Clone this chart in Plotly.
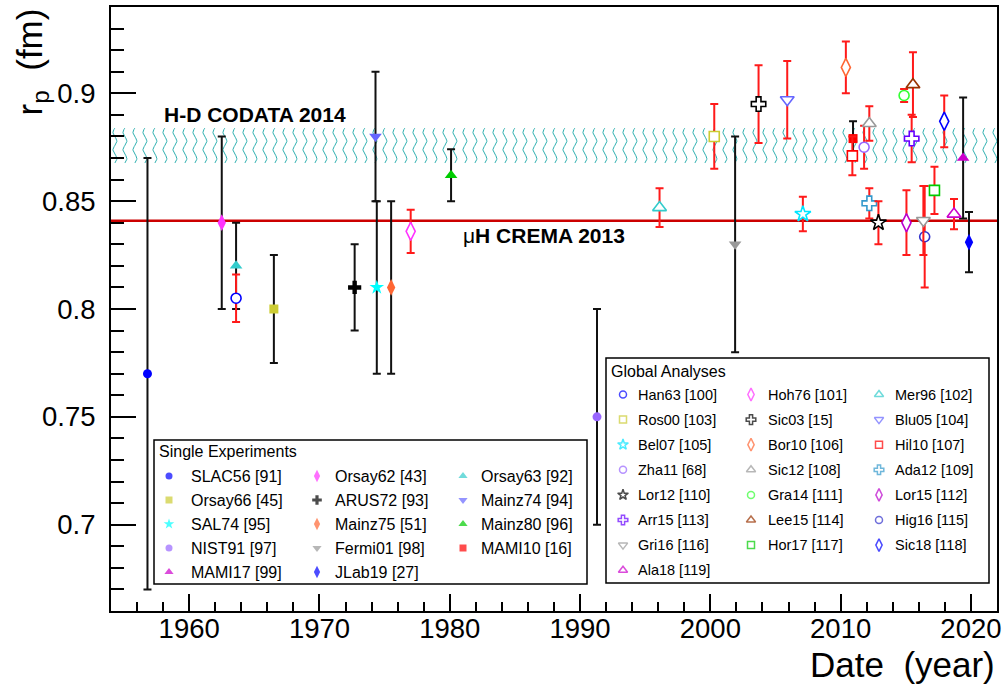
import numpy as np
import plotly.graph_objects as go

# ---------------- data ----------------
x_range = [1954, 2022]
y_range = [0.66, 0.94]
x_tick_vals = [1960, 1970, 1980, 1990, 2000, 2010, 2020]
y_tick_vals = [0.7, 0.75, 0.8, 0.85, 0.9]
y_tick_text = ["0.7", "0.75", "0.8", "0.85", "0.9"]

codata_band = [0.8677, 0.8839]      # H-D CODATA 2014 band (low, high)
crema_value = 0.8409                # muH CREMA 2013

# Single experiments (legend order, row-major)
single_names = ["SLAC56 [91]", "Orsay62 [43]", "Orsay63 [92]",
                "Orsay66 [45]", "ARUS72 [93]", "Mainz74 [94]",
                "SAL74 [95]", "Mainz75 [51]", "Mainz80 [96]",
                "NIST91 [97]", "Fermi01 [98]", "MAMI10 [16]",
                "MAMI17 [99]", "JLab19 [27]"]
single_year = [1956.8, 1962.5, 1963.6, 1966.5, 1972.7, 1974.3, 1974.4,
               1975.5, 1980.1, 1991.3, 2001.9, 2010.95, 2019.4, 2019.85]
single_r = [0.770, 0.840, 0.820, 0.800, 0.810, 0.880, 0.810,
            0.810, 0.862, 0.750, 0.830, 0.879, 0.870, 0.831]
single_err = [0.100, 0.040, 0.020, 0.025, 0.020, 0.030, 0.040,
              0.040, 0.012, 0.050, 0.050, 0.008, 0.028, 0.014]
single_color = ["#0000FF", "#FF33FF", "#33CCCC", "#CCCC33", "#000000",
                "#6666FF", "#00FFFF", "#FF6633", "#00CC00", "#9966FF",
                "#999999", "#FF0000", "#CC00CC", "#0000FF"]
single_symbol = ["circle", "diamond-tall", "triangle-up", "square", "cross",
                 "triangle-down", "star", "diamond-tall", "triangle-up",
                 "circle", "triangle-down", "square", "triangle-up",
                 "diamond-tall"]

# Global analyses (legend order, row-major)
global_names = ["Han63 [100]", "Hoh76 [101]", "Mer96 [102]",
                "Ros00 [103]", "Sic03 [15]", "Blu05 [104]",
                "Bel07 [105]", "Bor10 [106]", "Hil10 [107]",
                "Zha11 [68]", "Sic12 [108]", "Ada12 [109]",
                "Lor12 [110]", "Gra14 [111]", "Lor15 [112]",
                "Arr15 [113]", "Lee15 [114]", "Hig16 [115]",
                "Gri16 [116]", "Hor17 [117]", "Sic18 [118]",
                "Ala18 [119]"]
global_year = [1963.6, 1977.0, 1996.1, 2000.3, 2003.7, 2005.9, 2007.1,
               2010.4, 2010.9, 2011.8, 2012.2, 2012.2, 2012.9, 2014.87,
               2015.05, 2015.45, 2015.55, 2016.45, 2016.35, 2017.2,
               2017.95, 2018.7]
global_r = [0.805, 0.836, 0.847, 0.880, 0.895, 0.897, 0.844, 0.912,
            0.871, 0.875, 0.886, 0.849, 0.840, 0.899, 0.840, 0.879,
            0.904, 0.8335, 0.841, 0.855, 0.887, 0.844]
global_err = [0.011, 0.010, 0.009, 0.015, 0.018, 0.018, 0.008, 0.012,
              0.009, 0.010, 0.008, 0.007, 0.010, 0.003, 0.015, 0.011,
              0.015, 0.0235, 0.016, 0.011, 0.012, 0.007]
global_color = ["#0000FF", "#FF33FF", "#33CCCC", "#CCCC33", "#000000",
                "#6666FF", "#00E5FF", "#FF6633", "#FF0000", "#9966FF",
                "#999999", "#3399CC", "#000000", "#33FF33", "#BB00CC",
                "#6600FF", "#993300", "#3333CC", "#999999", "#00CC00",
                "#0000FF", "#CC00CC"]
global_symbol = ["circle", "diamond-tall", "triangle-up", "square", "cross",
                 "triangle-down", "star", "diamond-tall", "square", "circle",
                 "triangle-up", "cross", "star", "circle", "diamond-tall",
                 "cross", "triangle-up", "circle", "triangle-down", "square",
                 "diamond-tall", "triangle-up"]

# ---------------- styling / layout ----------------
FONT = "Liberation Sans, Arial, Helvetica, sans-serif"
W, H = 1005, 686
M_L, M_R, M_T, M_B = 111, 8, 7, 75
PW, PH = W - M_L - M_R, H - M_T - M_B


def px_x(p):
    return (p - M_L) / PW


def px_y(p):
    return (H - M_B - p) / PH


SYM_SIZE = {"circle": 9, "square": 9, "triangle-up": 11, "triangle-down": 11,
            "diamond-tall": 12, "cross": 11, "star": 11}

fig = go.Figure()

# CODATA band drawn as a wavy-line pattern
lo, hi = codata_band
step, amp, wl = 0.7675, 0.15, (hi - lo) / 2.0
yy = np.linspace(lo, hi, 50)
bx, by = [], []
for x0 in np.arange(x_range[0] + 0.3, x_range[1], step):
    bx += list(x0 + amp * np.sin(2 * np.pi * (yy - lo) / wl)) + [None]
    by += list(yy) + [None]
fig.add_trace(go.Scatter(x=bx, y=by, mode="lines",
                         line=dict(color="#2EB0B0", width=1),
                         hoverinfo="skip", showlegend=False))

# muH CREMA line
fig.add_trace(go.Scatter(x=x_range, y=[crema_value, crema_value], mode="lines",
                         line=dict(color="#CC0000", width=2.5),
                         hoverinfo="skip", showlegend=False))

# Single experiments
for n, x, r, e, c, s in zip(single_names, single_year, single_r, single_err,
                            single_color, single_symbol):
    fig.add_trace(go.Scatter(
        x=[x], y=[r], mode="markers", name=n, showlegend=False,
        error_y=dict(type="data", array=[e], color="#111111",
                     thickness=2, width=4),
        marker=dict(symbol=s, size=SYM_SIZE[s], color=c, line=dict(width=0)),
        cliponaxis=False))

# Global analyses
for n, x, r, e, c, s in zip(global_names, global_year, global_r, global_err,
                            global_color, global_symbol):
    fig.add_trace(go.Scatter(
        x=[x], y=[r], mode="markers", name=n, showlegend=False,
        error_y=dict(type="data", array=[e], color="#FF1A1A",
                     thickness=2, width=4),
        marker=dict(symbol=s, size=SYM_SIZE[s] + 1, color="white",
                    line=dict(color=c, width=1.6)),
        cliponaxis=False))

# ---------------- hand-built legends (two boxes, three columns) ----------------
shapes, annotations = [], []
leg_specs = [
    dict(title="Single Experiments", names=single_names, colors=single_color,
         symbols=single_symbol, filled=True, box=(154, 440, 587, 584),
         title_xy=(157, 452), row0=476, drow=24.0,
         sym_x=(169, 317, 463), txt_x=(189, 333, 479), font=16, title_font=16),
    dict(title="Global Analyses", names=global_names, colors=global_color,
         symbols=global_symbol, filled=False, box=(606, 358, 989, 583),
         title_xy=(609, 371), row0=394.5, drow=25.1,
         sym_x=(623, 751, 879), txt_x=(636, 766, 893), font=14.5,
         title_font=16),
]
for spec in leg_specs:
    x0, y0, x1, y1 = spec["box"]
    shapes.append(dict(type="rect", xref="paper", yref="paper",
                       x0=px_x(x0), x1=px_x(x1), y0=px_y(y1), y1=px_y(y0),
                       line=dict(color="black", width=1.5),
                       fillcolor="white", layer="below"))
    annotations.append(dict(text=spec["title"], xref="paper", yref="paper",
                            x=px_x(spec["title_xy"][0]),
                            y=px_y(spec["title_xy"][1]),
                            xanchor="left", yanchor="middle", showarrow=False,
                            font=dict(family=FONT, size=spec["title_font"],
                                      color="black")))
    lx, ly, lsym, lcol = [], [], [], []
    for i, (n, c, s) in enumerate(zip(spec["names"], spec["colors"],
                                      spec["symbols"])):
        row, col = divmod(i, 3)
        yc = spec["row0"] + row * spec["drow"]
        lx.append(px_x(spec["sym_x"][col]))
        ly.append(px_y(yc))
        lsym.append(s)
        lcol.append(c)
        annotations.append(dict(text=n, xref="paper", yref="paper",
                                x=px_x(spec["txt_x"][col]), y=px_y(yc),
                                xanchor="left", yanchor="middle",
                                showarrow=False,
                                font=dict(family=FONT, size=spec["font"],
                                          color="black")))
    sizes = [round(SYM_SIZE[s] * 0.75) for s in lsym]
    if spec["filled"]:
        mk = dict(symbol=lsym, size=sizes, color=lcol, line=dict(width=0))
    else:
        mk = dict(symbol=lsym, size=sizes, color="white",
                  line=dict(color=lcol, width=1.5))
    fig.add_trace(go.Scatter(x=lx, y=ly, mode="markers", marker=mk,
                             xaxis="x2", yaxis="y2", hoverinfo="skip",
                             showlegend=False, cliponaxis=False))

# reference labels
annotations.append(dict(text="<b>H-D CODATA 2014</b>", x=1965.05, y=0.890,
                        xref="x", yref="y", showarrow=False,
                        font=dict(family=FONT, size=21, color="black")))
annotations.append(dict(text="\u03bc<b>H CREMA 2013</b>", x=1987.2, y=0.8343,
                        xref="x", yref="y", showarrow=False,
                        font=dict(family=FONT, size=21, color="black")))

# axis titles
annotations.append(dict(text="Date\u00a0\u00a0(year)", xref="paper",
                        yref="paper", x=1.0, y=px_y(664), xanchor="right",
                        yanchor="middle", showarrow=False,
                        font=dict(family=FONT, size=35, color="black")))
annotations.append(dict(text="r<sub>p</sub>\u00a0\u00a0(fm)", xref="paper",
                        yref="paper", x=px_x(31), y=1.0, xanchor="center",
                        yanchor="top", textangle=-90, showarrow=False,
                        font=dict(family=FONT, size=35, color="black")))

axis_common = dict(showgrid=False, zeroline=False, showline=True,
                   linecolor="black", linewidth=2, mirror=True,
                   ticks="inside", tickcolor="black", tickwidth=2,
                   tickfont=dict(family=FONT, size=27.5, color="black"))

fig.update_layout(
    width=W, height=H,
    margin=dict(l=M_L, r=M_R, t=M_T, b=M_B, autoexpand=False),
    paper_bgcolor="white", plot_bgcolor="white",
    showlegend=False,
    xaxis=dict(range=x_range, tickvals=x_tick_vals, ticklen=17,
               minor=dict(dtick=2, tick0=1960, ticks="inside", ticklen=9,
                          tickcolor="black", tickwidth=2),
               ticklabelstandoff=-8, **axis_common),
    yaxis=dict(range=y_range, tickvals=y_tick_vals, ticktext=y_tick_text,
               ticklen=25,
               minor=dict(dtick=0.01, tick0=0.7, ticks="inside", ticklen=13,
                          tickcolor="black", tickwidth=2),
               ticklabelstandoff=8, **axis_common),
    xaxis2=dict(range=[0, 1], overlaying="x", visible=False, fixedrange=True),
    yaxis2=dict(range=[0, 1], overlaying="y", visible=False, fixedrange=True),
    shapes=shapes, annotations=annotations,
)

fig.write_html("out.html", config={"displayModeBar": False},
               post_script="document.body.style.margin='0';"
                           "document.body.style.overflow='hidden';")
